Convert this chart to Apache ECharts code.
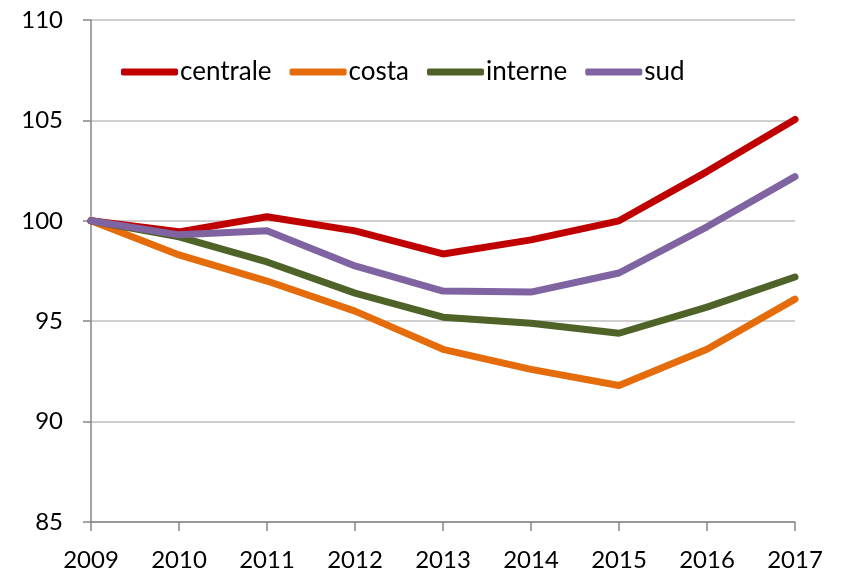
<!DOCTYPE html>
<html>
<head>
<meta charset="utf-8">
<script src="https://cdn.jsdelivr.net/npm/echarts@6/dist/echarts.min.js"></script>
<style>
  html, body { margin: 0; padding: 0; background: #fff; }
  #chart { width: 842px; height: 574px; }
</style>
</head>
<body>
<div id="chart"></div>
<script>
// indici 2009 = 100
const years = ['2009', '2010', '2011', '2012', '2013', '2014', '2015', '2016', '2017'];
const centrale = [100, 99.45, 100.2, 99.5, 98.35, 99.05, 100.0, 102.45, 105.05];
const costa = [100, 98.3, 97.0, 95.5, 93.6, 92.6, 91.8, 93.6, 96.1];
const interne = [100, 99.2, 97.95, 96.4, 95.2, 94.9, 94.4, 95.7, 97.2];
const sud = [100, 99.3, 99.5, 97.75, 96.5, 96.45, 97.4, 99.7, 102.2];

const seriesNames = ['centrale', 'costa', 'interne', 'sud'];
const seriesData = [centrale, costa, interne, sud];
const colors = ['#C00000', '#E46C0A', '#4F6228', '#8064A2'];

const font = 'Lato, "Open Sans", sans-serif';
const chart = echarts.init(document.getElementById('chart'));

const option = {
  animation: false,
  color: colors,
  grid: { left: 91, right: 47, top: 20, bottom: 52 },
  legend: {
    data: seriesNames,
    left: 116,
    top: 54,
    itemWidth: 57,
    itemHeight: 7,
    itemGap: 18,
    icon: 'roundRect',
    textStyle: { fontSize: 26, color: '#000', fontFamily: font, padding: [0, 0, 0, -3] }
  },
  xAxis: {
    type: 'category',
    data: years,
    boundaryGap: false,
    axisLine: { lineStyle: { color: '#868686', width: 1.5 } },
    axisTick: { show: true, length: 9, lineStyle: { color: '#868686', width: 1.5 } },
    axisLabel: { fontSize: 24, color: '#000', fontFamily: font, margin: 26 },
    splitLine: { show: false }
  },
  yAxis: {
    type: 'value',
    min: 85,
    max: 110,
    interval: 5,
    axisLine: { show: true, lineStyle: { color: '#868686', width: 1.5 } },
    axisTick: { show: true, inside: false, length: 8, lineStyle: { color: '#868686', width: 1.5 } },
    axisLabel: { fontSize: 24, color: '#000', fontFamily: font, margin: 28 },
    splitLine: { show: true, lineStyle: { color: '#BFBFBF', width: 1.5 } }
  },
  series: seriesNames.map((name, i) => ({
    name: name,
    type: 'line',
    data: seriesData[i],
    symbol: 'none',
    lineStyle: { width: 7, color: colors[i], cap: 'round', join: 'round' },
    itemStyle: { color: colors[i] }
  }))
};

chart.setOption(option);
</script>
</body>
</html>
